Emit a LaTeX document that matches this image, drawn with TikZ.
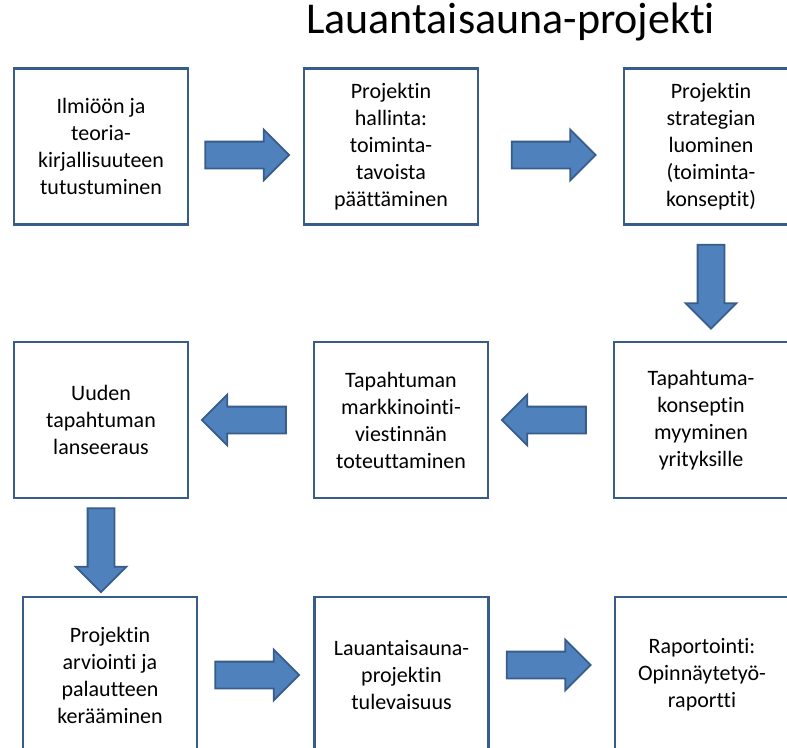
\documentclass[tikz,border=0pt]{standalone}
\usepackage{fontspec}
\setmainfont[Ligatures={NoCommon,NoContextual},Contextuals={NoAlternate}]{Carlito}
\usetikzlibrary{shapes.arrows,calc}
\definecolor{boxline}{HTML}{385D8A}
\definecolor{arrowfill}{HTML}{4F81BD}
\tikzset{
  box/.style={draw=boxline, line width=2.5pt, fill=white, minimum width=174pt,
    minimum height=156pt, inner sep=0pt, align=center,
    font=\fontsize{22}{27}\selectfont},
  barrow/.style={single arrow, draw=boxline, line width=1.8pt, fill=arrowfill,
    minimum height=84pt, inner xsep=0pt, inner ysep=12.5pt,
    single arrow head extend=12pt, single arrow tip angle=90, anchor=tail},
}
\begin{document}
\begin{tikzpicture}[x=1pt,y=-1pt]
      \clip (0,0) rectangle (787,747);
      \fill[white] (0,0) rectangle (787,747);
      % Title
      \node[anchor=base west, inner sep=0pt, font=\fontsize{44}{53}\selectfont] (title) at (306,33) {Lauantaisauna-projekti};
      % Row 1
      \node[box] (lit) at (101,146.5) {Ilmiöön ja\\teoria-\\kirjallisuuteen\\tutustuminen};
      \node[box] (hallinta) at (391,146.5) {Projektin\\hallinta:\\toiminta-\\tavoista\\päättäminen};
      \node[box] (strategia) at (711,146.5) {Projektin\\strategian\\luominen\\(toiminta-\\konseptit)};
      % Row 2
      \node[box] (lanseeraus) at (101,420) {Uuden\\tapahtuman\\lanseeraus};
      \node[box] (markkinointi) at (401,420) {Tapahtuman\\markkinointi-\\viestinnän\\toteuttaminen};
      \node[box] (myynti) at (701,420) {Tapahtuma-\\konseptin\\myyminen\\yrityksille};
      % Row 3 (cut off at the bottom)
      \node[box] (arviointi) at (110,675) {Projektin\\arviointi ja\\palautteen\\kerääminen};
      \node[box] (tulevaisuus) at (401.5,675) {Lauantaisauna-\\projektin\\tulevaisuus};
      \node[box] (raportti) at (702,675) {Raportointi:\\Opinnäytetyö-\\raportti};
      % Block arrows
      \node[barrow] (a1) at ($(lit.east)+(15,8.5)$) {};
      \node[barrow] (a2) at ($(strategia.west)+(-112,8.5)$) {};
      \node[barrow, rotate=-90] (a3) at ($(strategia.south)+(0,18)$) {};
      \node[barrow, rotate=180] (a4) at ($(myynti.west)+(-26,0)$) {};
      \node[barrow, rotate=180] (a5) at ($(markkinointi.west)+(-26,0)$) {};
      \node[barrow, rotate=-90] (a6) at ($(lanseeraus.south)+(0,8)$) {};
      \node[barrow] (a7) at ($(arviointi.east)+(16,0)$) {};
      \node[barrow] (a8) at ($(tulevaisuus.east)+(16,-10)$) {};
\end{tikzpicture}
\end{document}
